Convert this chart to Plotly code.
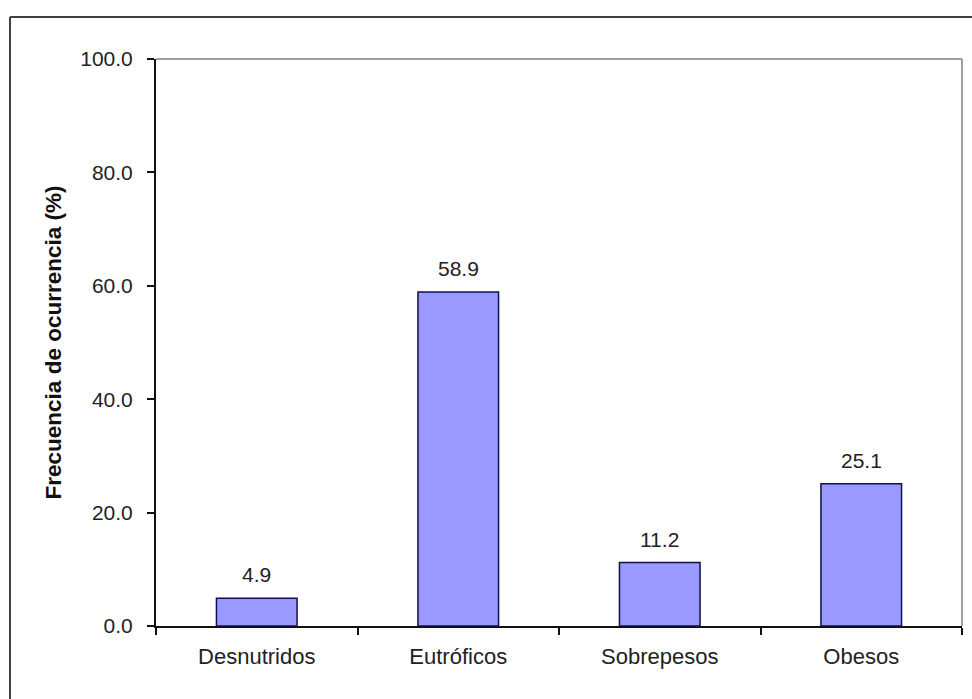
import plotly.graph_objects as go

# Frecuencia de ocurrencia por estado nutricional
categorias = ["Desnutridos", "Eutróficos", "Sobrepesos", "Obesos"]
frecuencias = [4.9, 58.9, 11.2, 25.1]
y_ticks = [0, 20, 40, 60, 80, 100]
y_tick_labels = ["0.0", "20.0", "40.0", "60.0", "80.0", "100.0"]

W, H = 972, 699
L, R, T, B = 156, 10, 59, 73
pw, ph = W - L - R, H - T - B

def px_x(x):
    return (x - L) / pw

def px_y(y):
    return (H - B - y) / ph

font = "Liberation Sans, Arial, sans-serif"

fig = go.Figure(
    go.Bar(
        x=categorias,
        y=frecuencias,
        width=0.4,
        marker=dict(color="#9999FF", line=dict(color="#10104a", width=1.5)),
        hoverinfo="skip",
    )
)

# value labels above each bar
for c, v in zip(categorias, frecuencias):
    fig.add_annotation(
        x=c, y=v, text=f"{v:.1f}", showarrow=False,
        yanchor="bottom", yshift=10,
        font=dict(family=font, size=21, color="#222222"),
    )

shapes = [
    # grey frame on top and right of the plotting area
    dict(type="line", xref="paper", yref="paper", x0=0, x1=1, y0=1, y1=1,
         line=dict(color="#a0a0a0", width=2)),
    dict(type="line", xref="paper", yref="paper", x0=1, x1=1, y0=0, y1=1,
         line=dict(color="#a0a0a0", width=2)),
    # outer chart border
    dict(type="line", xref="paper", yref="paper", x0=px_x(10), x1=px_x(10),
         y0=px_y(17), y1=px_y(H + 5), line=dict(color="#404040", width=2)),
    dict(type="line", xref="paper", yref="paper", x0=px_x(10), x1=px_x(W + 5),
         y0=px_y(17), y1=px_y(17), line=dict(color="#404040", width=2)),
]

fig.update_layout(
    width=W, height=H,
    margin=dict(l=L, r=R, t=T, b=B, pad=0),
    paper_bgcolor="white", plot_bgcolor="white",
    showlegend=False,
    shapes=shapes,
    bargap=0.6,
    font=dict(family=font, color="#222222"),
)

fig.update_xaxes(
    showline=True, linecolor="#111111", linewidth=2,
    ticks="outside", tickson="boundaries", ticklen=7, tickcolor="#111111", tickwidth=1.5,
    tickfont=dict(family=font, size=22, color="#222222"),
    ticklabelstandoff=10,
    showgrid=False, zeroline=False,
)

fig.update_yaxes(
    range=[0, 100],
    tickvals=y_ticks, ticktext=y_tick_labels,
    showline=True, linecolor="#111111", linewidth=2,
    ticks="outside", ticklen=7, tickcolor="#111111", tickwidth=1.5,
    tickfont=dict(family=font, size=21, color="#222222"),
    ticklabelstandoff=10,
    showgrid=False, zeroline=False,
    title=dict(text="<b>Frecuencia de ocurrencia (%)</b>",
               font=dict(family=font, size=22.5, color="#111111"), standoff=12),
)

fig.write_html("out.html")
